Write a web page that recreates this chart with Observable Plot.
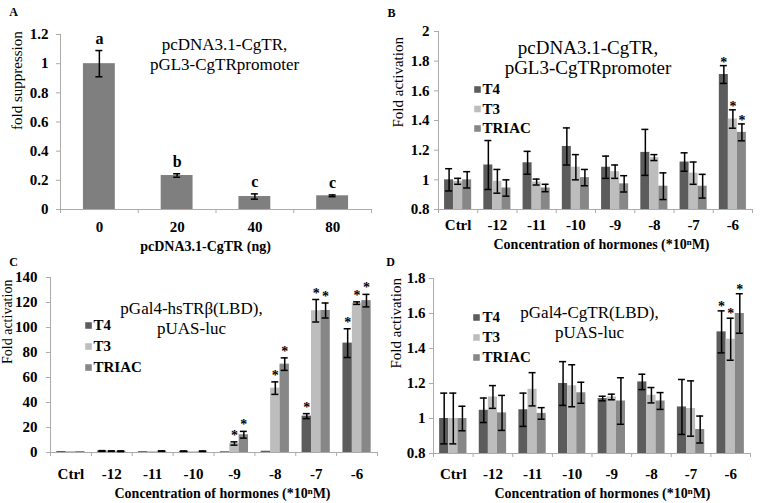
<!DOCTYPE html>
<html><head><meta charset="utf-8">
<script src="https://cdn.jsdelivr.net/npm/d3@7"></script>
<script src="https://cdn.jsdelivr.net/npm/@observablehq/plot@0.6"></script>
<style>
body{margin:0;background:#fff;}
#wrap{position:relative;width:763px;height:503px;overflow:hidden;background:#fff;}
</style></head><body><div id="wrap"></div>
<script>
// ---------- Panel A data ----------
const aCats = ["0", "20", "40", "80"];
const aVals = [1.0, 0.233, 0.089, 0.094];
const aErr = [0.09, 0.012, 0.018, 0.006];
const aLetters = ["a", "b", "c", "c"];
const aTicks = [0, 0.2, 0.4, 0.6, 0.8, 1, 1.2];

// ---------- Shared categories ----------
const groups = ["Ctrl", "-12", "-11", "-10", "-9", "-8", "-7", "-6"];
const series = ["T4", "T3", "TRIAC"];

// ---------- Panel B data ----------
const bT4 = [1.00, 1.10, 1.115, 1.225, 1.085, 1.185, 1.12, 1.71];
const bT4err = [0.075, 0.165, 0.077, 0.125, 0.075, 0.155, 0.062, 0.06];
const bT3 = [0.99, 0.99, 0.985, 1.085, 1.055, 1.15, 1.045, 1.41];
const bT3err = [0.02, 0.08, 0.02, 0.085, 0.045, 0.02, 0.075, 0.062];
const bTR = [1.00, 0.945, 0.945, 1.015, 0.973, 0.957, 0.957, 1.32];
const bTRerr = [0.055, 0.055, 0.025, 0.055, 0.055, 0.09, 0.08, 0.057];
const bT4sig = [0, 0, 0, 0, 0, 0, 0, 1];
const bT3sig = [0, 0, 0, 0, 0, 0, 0, 1];
const bTRsig = [0, 0, 0, 0, 0, 0, 0, 1];
const bTicks = [0.8, 1, 1.2, 1.4, 1.6, 1.8, 2];

// ---------- Panel C data ----------
const cT4 = [0.8, 1.2, 0.7, 1.0, 0.6, 1.0, 29.1, 87.5];
const cT4err = [0, 0.3, 0, 0.2, 0, 0, 2, 11.5];
const cT3 = [0.8, 1.1, 0.7, 0.6, 7.2, 51.5, 113.4, 119.5];
const cT3err = [0, 0.2, 0, 0, 1.3, 5, 9, 1];
const cTR = [0.8, 1.0, 1.1, 1.0, 14.2, 70.7, 113.6, 121.5];
const cTRerr = [0, 0.3, 0.2, 0.2, 2.7, 5, 6, 5];
const cT4sig = [0, 0, 0, 0, 0, 0, 1, 1];
const cT3sig = [0, 0, 0, 0, 1, 1, 1, 1];
const cTRsig = [0, 0, 0, 0, 1, 1, 1, 1];
const cTicks = [0, 20, 40, 60, 80, 100, 120, 140];

// ---------- Panel D data ----------
const dT4 = [1.0, 1.047, 1.05, 1.2, 1.114, 1.209, 1.066, 1.495];
const dT4err = [0.145, 0.07, 0.095, 0.125, 0.013, 0.044, 0.157, 0.12];
const dT3 = [1.0, 1.123, 1.167, 1.187, 1.123, 1.133, 1.057, 1.453];
const dT3err = [0.145, 0.065, 0.095, 0.12, 0.016, 0.044, 0.158, 0.12];
const dTR = [1.0, 1.032, 1.029, 1.147, 1.1, 1.1, 0.937, 1.6];
const dTRerr = [0.07, 0.1, 0.033, 0.06, 0.133, 0.048, 0.077, 0.113];
const dT4sig = [0, 0, 0, 0, 0, 0, 0, 1];
const dT3sig = [0, 0, 0, 0, 0, 0, 0, 1];
const dTRsig = [0, 0, 0, 0, 0, 0, 0, 1];
const dTicks = [0.8, 1, 1.2, 1.4, 1.6, 1.8];

const xTitle = "Concentration of hormones (*10\u207FM)";

// ---------- styling ----------
const FONT = '"Liberation Serif","Times New Roman",serif';
const AXIS = "#ababab";
const colors = {T4: "#5c5c5c", T3: "#bdbdbd", TRIAC: "#878787"};
const wrap = document.getElementById("wrap");

function baseStyle(left, top) {
  return {position: "absolute", left: left + "px", top: top + "px", background: "transparent",
          overflow: "visible", fontFamily: FONT, fontSize: "14px", color: "black"};
}

function grouped(cfg) {
  const bw = 0.23;
  const rows = [];
  series.forEach((s, si) => groups.forEach((g, gi) => {
    const c = gi + 0.5 + (si - 1) * bw;
    rows.push({g, s, v: cfg.vals[si][gi], e: cfg.errs[si][gi], sig: cfg.sig[si][gi], x1: c - bw / 2, x2: c + bw / 2, xc: c});
  }));
  const y0 = cfg.yDomain[0];
  const withErr = rows.filter(d => d.e > 0);
  const m = cfg.margins;
  const frameCx = (m.left + cfg.width - m.right) / 2;
  const marks = [
    Plot.rectY(rows, {x1: "x1", x2: "x2", y1: () => y0, y2: "v", fill: d => colors[d.s]}),
    Plot.ruleY([y0], {stroke: AXIS, strokeWidth: 1}),
    Plot.ruleX([0], {stroke: AXIS, strokeWidth: 1}),
    Plot.axisX({ticks: d3.range(groups.length + 1), tickSize: 4, tickFormat: () => "", stroke: AXIS, label: null}),
    Plot.axisX({ticks: groups.map((g, i) => i + 0.5), tickSize: 0, tickPadding: cfg.xPad,
      tickFormat: d => groups[Math.floor(d)], fill: "black", fontWeight: "bold", fontSize: 15, label: null}),
    Plot.axisY({ticks: cfg.yTicks, tickSize: 4, tickPadding: cfg.yPad, tickFormat: d => String(d),
      stroke: AXIS, fill: "black", fontWeight: "bold", fontSize: 15, label: null}),
    Plot.ruleX(withErr, {x: "xc", y1: d => d.v - d.e, y2: d => d.v + d.e, stroke: "black", strokeWidth: 1.5}),
    Plot.ruleY(withErr, {x1: "xc", x2: "xc", y: d => d.v + d.e, insetLeft: -3.5, insetRight: -3.5, stroke: "black", strokeWidth: 1.5}),
    Plot.ruleY(withErr, {x1: "xc", x2: "xc", y: d => d.v - d.e, insetLeft: -3.5, insetRight: -3.5, stroke: "black", strokeWidth: 1.5}),
    Plot.text(rows.filter(d => d.sig), {x: "xc", y: d => d.v + d.e, text: () => "*", lineAnchor: "bottom",
      dy: cfg.starDy, fontWeight: "bold", fontSize: 14, fill: "black"}),
    Plot.text([cfg.title], {frameAnchor: "top", dx: cfg.titleX - frameCx, dy: cfg.titleDy, lineAnchor: "top",
      fontSize: cfg.titleSize, lineHeight: cfg.titleLH, fill: "black"}),
    Plot.text([cfg.ylabel], {frameAnchor: "left", rotate: -90, dx: cfg.ylabX - m.left, dy: cfg.ylabDy,
      fontSize: cfg.ylabSize, fill: "black"}),
    Plot.text([xTitle], {frameAnchor: "bottom", dx: cfg.xtX - frameCx, dy: cfg.xtDy, lineAnchor: "middle",
      fontSize: 14, fontWeight: "bold", fill: "black"}),
    Plot.text([cfg.letter], {frameAnchor: "top-left", dx: cfg.letterX - m.left, dy: cfg.letterY - m.top,
      lineAnchor: "middle", textAnchor: "middle", fontSize: 12, fontWeight: "bold", fill: "black"})
  ];
  series.forEach((s, i) => {
    marks.push(Plot.dot([s], {frameAnchor: "top-left", dx: cfg.leg.sqX - m.left, dy: cfg.leg.y0 - m.top + i * cfg.leg.step,
      symbol: "square", r: 3.7, fill: colors[s], stroke: null}));
    marks.push(Plot.text([s], {frameAnchor: "top-left", dx: cfg.leg.txX - m.left, dy: cfg.leg.y0 - m.top + i * cfg.leg.step,
      textAnchor: "start", lineAnchor: "middle", fontSize: 15, fontWeight: "bold", fill: "black"}));
  });
  return Plot.plot({
    width: cfg.width, height: cfg.height,
    marginLeft: m.left, marginRight: m.right, marginTop: m.top, marginBottom: m.bottom,
    x: {domain: [0, groups.length]}, y: {domain: cfg.yDomain},
    style: baseStyle(cfg.left, cfg.top),
    marks
  });
}

// ---------- Panel A ----------
function panelA() {
  const rows = aCats.map((c, i) => ({i, c, v: aVals[i], e: aErr[i], l: aLetters[i]}));
  const bw = 0.41;
  const m = {left: 60, right: 9, top: 34, bottom: 41};
  const frameCx = (m.left + 380 - m.right) / 2;
  return Plot.plot({
    width: 380, height: 250,
    marginLeft: m.left, marginRight: m.right, marginTop: m.top, marginBottom: m.bottom,
    x: {domain: [0, aCats.length]}, y: {domain: [0, 1.2]},
    style: baseStyle(0, 0),
    marks: [
      Plot.rectY(rows, {x1: d => d.i + 0.5 - bw / 2, x2: d => d.i + 0.5 + bw / 2, y1: () => 0, y2: "v", fill: "#7f7f7f"}),
      Plot.ruleY([0], {stroke: AXIS}),
      Plot.ruleX([0], {stroke: AXIS}),
      Plot.axisX({ticks: d3.range(aCats.length + 1), tickSize: 4, tickFormat: () => "", stroke: AXIS, label: null}),
      Plot.axisX({ticks: aCats.map((c, i) => i + 0.5), tickSize: 0, tickPadding: 12,
        tickFormat: d => aCats[Math.floor(d)], fill: "black", fontWeight: "bold", fontSize: 15, label: null}),
      Plot.axisY({ticks: aTicks, tickSize: 4, tickPadding: 8, tickFormat: d => String(d),
        stroke: AXIS, fill: "black", fontWeight: "bold", fontSize: 15, label: null}),
      Plot.ruleX(rows, {x: d => d.i + 0.5, y1: d => d.v - d.e, y2: d => d.v + d.e, stroke: "black", strokeWidth: 1.5}),
      Plot.ruleY(rows, {x1: d => d.i + 0.5, x2: d => d.i + 0.5, y: d => d.v + d.e, insetLeft: -3.5, insetRight: -3.5, stroke: "black", strokeWidth: 1.5}),
      Plot.ruleY(rows, {x1: d => d.i + 0.5, x2: d => d.i + 0.5, y: d => d.v - d.e, insetLeft: -3.5, insetRight: -3.5, stroke: "black", strokeWidth: 1.5}),
      Plot.text(rows, {x: d => d.i + 0.5, y: d => d.v + d.e, text: "l", lineAnchor: "bottom", dy: -7,
        fontWeight: "bold", fontSize: 16, fill: "black"}),
      Plot.text(["pcDNA3.1-CgTR,\npGL3-CgTRpromoter"], {frameAnchor: "top", dx: 224 - frameCx, dy: 1, lineAnchor: "top",
        fontSize: 17, lineHeight: 1.18, fill: "black"}),
      Plot.text(["fold suppression"], {frameAnchor: "left", rotate: -90, dx: 17 - m.left, dy: 8, fontSize: 15, fill: "black"}),
      Plot.text(["pcDNA3.1-CgTR (ng)"], {frameAnchor: "bottom", dx: 205 - frameCx, dy: 37, lineAnchor: "middle",
        fontSize: 14, fontWeight: "bold", fill: "black"}),
      Plot.text(["A"], {frameAnchor: "top-left", dx: 13 - m.left, dy: 12 - m.top, lineAnchor: "middle", textAnchor: "middle",
        fontSize: 12, fontWeight: "bold", fill: "black"})
    ]
  });
}

wrap.appendChild(panelA());
wrap.appendChild(grouped({
  left: 380, top: 0, width: 383, height: 250,
  margins: {left: 58, right: 11, top: 31, bottom: 41},
  vals: [bT4, bT3, bTR], errs: [bT4err, bT3err, bTRerr], sig: [bT4sig, bT3sig, bTRsig],
  yDomain: [0.8, 2], yTicks: bTicks, xPad: 10, yPad: 5, starDy: 1,
  title: "pcDNA3.1-CgTR,\npGL3-CgTRpromoter", titleX: 587.5 - 380, titleDy: 9, titleSize: 19, titleLH: 1.02,
  ylabel: "Fold activation", ylabX: 18, ylabDy: 7, ylabSize: 15,
  xtX: 601 - 380, xtDy: 35,
  letter: "B", letterX: 11, letterY: 13,
  leg: {sqX: 477 - 380, txX: 482 - 380, y0: 89, step: 19.5}
}));
wrap.appendChild(grouped({
  left: 0, top: 250, width: 380, height: 253,
  margins: {left: 50, right: 3, top: 27, bottom: 51},
  vals: [cT4, cT3, cTR], errs: [cT4err, cT3err, cTRerr], sig: [cT4sig, cT3sig, cTRsig],
  yDomain: [0, 140], yTicks: cTicks, xPad: 16, yPad: 9, starDy: -2,
  title: "pGal4-hsTR\u03B2(LBD),\npUAS-luc", titleX: 191, titleDy: 23, titleSize: 17, titleLH: 1.14,
  ylabel: "Fold activation", ylabX: 7, ylabDy: -1, ylabSize: 14,
  xtX: 222, xtDy: 41,
  letter: "C", letterX: 13, letterY: 12,
  leg: {sqX: 88, txX: 93, y0: 75, step: 21}
}));
wrap.appendChild(grouped({
  left: 380, top: 250, width: 383, height: 253,
  margins: {left: 53, right: 13, top: 28, bottom: 50},
  vals: [dT4, dT3, dTR], errs: [dT4err, dT3err, dTRerr], sig: [dT4sig, dT3sig, dTRsig],
  yDomain: [0.8, 1.8], yTicks: dTicks, xPad: 15, yPad: 4, starDy: 0,
  title: "pGal4-CgTR(LBD),\npUAS-luc", titleX: 589 - 380, titleDy: 26, titleSize: 17, titleLH: 1.14,
  ylabel: "Fold activation", ylabX: 16, ylabDy: 2.5, ylabSize: 15,
  xtX: 602 - 380, xtDy: 40,
  letter: "D", letterX: 10, letterY: 12,
  leg: {sqX: 476 - 380, txX: 482 - 380, y0: 67, step: 20}
}));
</script>
</body></html>
